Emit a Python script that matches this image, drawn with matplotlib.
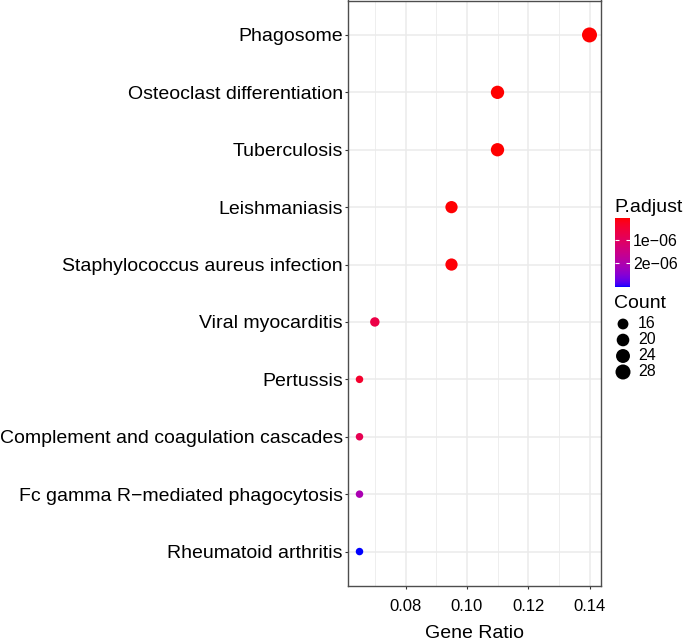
import numpy as np
import matplotlib
matplotlib.use("Agg")
import matplotlib.pyplot as plt
from matplotlib.colors import ListedColormap, Normalize
from matplotlib.colorbar import ColorbarBase

plt.rcParams['font.family'] = ['Liberation Sans', 'DejaVu Sans']

# ---- data ----
terms = ["Phagosome", "Osteoclast differentiation", "Tuberculosis", "Leishmaniasis",
         "Staphylococcus aureus infection", "Viral myocarditis", "Pertussis",
         "Complement and coagulation cascades", "Fc gamma R\u2212mediated phagocytosis",
         "Rheumatoid arthritis"]
gene_ratio = [0.140, 0.110, 0.110, 0.095, 0.095, 0.070, 0.065, 0.065, 0.065, 0.065]
counts = [28, 22, 22, 19, 19, 14, 13, 13, 13, 13]
p_adjust = [2e-10, 3e-9, 4e-9, 2e-8, 4e-8, 6.5e-7, 3.5e-7, 8.0e-7, 2.1e-6, 3.1e-6]
x_ticks = [0.08, 0.10, 0.12, 0.14]
cbar_ticks = [1e-06, 2e-06]
cbar_ticklabels = ["1e\u221206", "2e\u221206"]
size_breaks = [16, 20, 24, 28]

# ---- colour scale: red -> blue interpolated in Lab (like ggplot) ----
def srgb_to_lab(rgb):
    rgb = np.asarray(rgb, float)
    lin = np.where(rgb <= 0.04045, rgb / 12.92, ((rgb + 0.055) / 1.055) ** 2.4)
    M = np.array([[0.4124, 0.3576, 0.1805], [0.2126, 0.7152, 0.0722], [0.0193, 0.1192, 0.9505]])
    xyz = M @ lin
    wp = np.array([0.95047, 1.0, 1.08883])
    t = xyz / wp
    f = np.where(t > (6/29) ** 3, np.cbrt(t), t / (3 * (6/29) ** 2) + 4/29)
    return np.array([116 * f[1] - 16, 500 * (f[0] - f[1]), 200 * (f[1] - f[2])])

def lab_to_srgb(lab):
    L, a, b = lab
    fy = (L + 16) / 116
    fx = fy + a / 500
    fz = fy - b / 200
    def finv(t):
        return np.where(t > 6/29, t ** 3, 3 * (6/29) ** 2 * (t - 4/29))
    wp = np.array([0.95047, 1.0, 1.08883])
    xyz = np.array([finv(fx), finv(fy), finv(fz)]) * wp
    Minv = np.array([[3.2406, -1.5372, -0.4986], [-0.9689, 1.8758, 0.0415], [0.0557, -0.2040, 1.0570]])
    lin = Minv @ xyz
    lin = np.clip(lin, 0, 1)
    rgb = np.where(lin <= 0.0031308, 12.92 * lin, 1.055 * lin ** (1/2.4) - 0.055)
    return np.clip(rgb, 0, 1)

lab_lo = srgb_to_lab([1, 0, 0])
lab_hi = srgb_to_lab([0, 0, 1])
cols = [lab_to_srgb(lab_lo + (lab_hi - lab_lo) * t) for t in np.linspace(0, 1, 256)]
cmap = ListedColormap(cols)
norm = Normalize(vmin=min(p_adjust), vmax=max(p_adjust))

# ---- size scale (area palette, diameter in px) ----
DPI = 100
cmin, cmax = min(counts), max(counts)
def size_pts2(c, r0=7.5, r1=15.0):
    c = np.asarray(c, float)
    d_px = r0 + (r1 - r0) * np.sqrt((c - cmin) / (cmax - cmin))
    return (d_px * 72 / DPI) ** 2

W, H = 685, 643
fig = plt.figure(figsize=(W / DPI, H / DPI), dpi=DPI)
ax = fig.add_axes([348 / W, 1 - 586 / H, (601 - 348) / W, (586 - 0.5) / H])

ypos = np.arange(len(terms))
ax.scatter(gene_ratio, ypos, s=size_pts2(counts), c=p_adjust, cmap=cmap, norm=norm,
           linewidths=0, zorder=3)

ax.set_ylim(len(terms) - 1 + 0.6, -0.6)
xr = max(gene_ratio) - min(gene_ratio)
ax.set_xlim(min(gene_ratio) - 0.05 * xr, max(gene_ratio) + 0.05 * xr)
ax.set_yticks(ypos)
ax.set_yticklabels(terms, fontsize=14, color='black')
ax.set_xticks(x_ticks)
ax.set_xticklabels(["%.2f" % v for v in x_ticks], fontsize=12, color='black')
ax.set_xticks([v + 0.01 for v in [0.06] + x_ticks[:-1]], minor=True)
ax.tick_params(axis='y', which='major', length=2.2, width=0.8, color='#333333', pad=1.5)
ax.tick_params(axis='x', which='major', length=2.2, width=0.8, color='#333333', pad=7.5)
ax.tick_params(axis='x', which='minor', length=0)
ax.grid(True, which='major', color='#EBEBEB', linewidth=1.1, zorder=0)
ax.grid(True, which='minor', axis='x', color='#EBEBEB', linewidth=0.6, zorder=0)
ax.set_axisbelow(True)
for sp in ax.spines.values():
    sp.set_color('#4D4D4D')
    sp.set_linewidth(1.0)
ax.set_xlabel("Gene Ratio", fontsize=14, labelpad=7.5)

# ---- colour legend ----
fig.text(614 / W, 1 - 207 / H, "P.adjust", fontsize=14, ha='left', va='center')
cax = fig.add_axes([615 / W, 1 - 287 / H, 15 / W, 69 / H])
cb = ColorbarBase(cax, cmap=cmap, norm=norm, orientation='vertical')
cb.outline.set_visible(False)
cax.invert_yaxis()
cb.set_ticks(cbar_ticks)
cb.set_ticklabels(cbar_ticklabels)
cax.tick_params(axis='y', which='both', direction='in', length=3, width=0.8, color='white',
                left=True, right=True, labelleft=False, labelright=True,
                labelsize=11.5, pad=2)
cax.minorticks_off()

# ---- size legend ----
fig.text(614 / W, 1 - 303 / H, "Count", fontsize=14, ha='left', va='center')
lax = fig.add_axes([0, 0, 1, 1], facecolor='none')
lax.set_xlim(0, W)
lax.set_ylim(H, 0)
lax.axis('off')
leg_y = 324 + 16 * np.arange(len(size_breaks))
lax.scatter(np.full(len(size_breaks), 623), leg_y, s=size_pts2(size_breaks), c='black', linewidths=0)
for yy, lab in zip(leg_y, size_breaks):
    lax.text(638, yy, str(lab), fontsize=11.5, ha='left', va='center')

fig.savefig("out.png", dpi=DPI)
